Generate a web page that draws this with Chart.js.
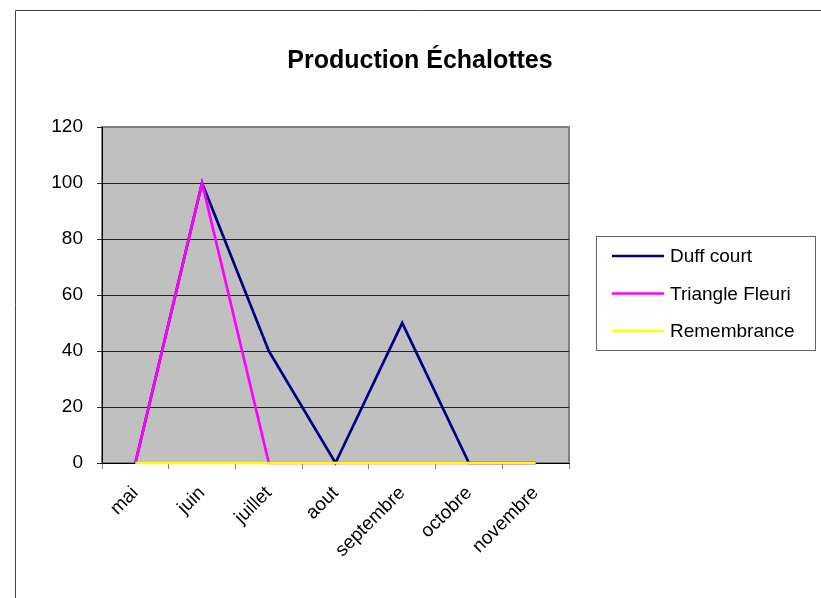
<!DOCTYPE html>
<html><head><meta charset="utf-8">
<script src="https://cdn.jsdelivr.net/npm/chart.js@4"></script>
<style>html,body{margin:0;padding:0;background:#fff}#wrap{width:821px;height:598px;position:relative}</style>
</head><body><div id="wrap"><canvas id="c" width="821" height="598"></canvas></div>
<script>
const categories = ['mai','juin','juillet','aout','septembre','octobre','novembre'];
const duffCourt = [0,100,40,0,50,0,0];
const triangleFleuri = [0,100,0,0,0,0,0];
const remembrance = [0,0,0,0,0,0,0];
const seriesNames = ['Duff court','Triangle Fleuri','Remembrance'];
const yTicks = [0,20,40,60,80,100,120];
const titleText = 'Production Échalottes';

const FONT = "'Liberation Sans', Arial, sans-serif";

const framePlugin = {
  id: 'frame',
  beforeDraw(chart) {
    const {ctx, chartArea: a} = chart;
    ctx.save();
    ctx.fillStyle = '#fff';
    ctx.fillRect(0,0,chart.width,chart.height);
    ctx.strokeStyle = '#444';
    ctx.lineWidth = 1;
    ctx.beginPath();
    ctx.moveTo(15.5, 598); ctx.lineTo(15.5, 10.5); ctx.lineTo(821, 10.5);
    ctx.stroke();
    ctx.fillStyle = '#C0C0C0';
    ctx.fillRect(a.left, a.top, a.right - a.left, a.bottom - a.top);
    ctx.strokeStyle = '#808080';
    ctx.lineWidth = 2;
    ctx.strokeRect(a.left, a.top, a.right - a.left, a.bottom - a.top);
    // title
    ctx.fillStyle = '#000';
    ctx.font = 'bold 25px ' + FONT;
    ctx.textAlign = 'center';
    ctx.textBaseline = 'alphabetic';
    ctx.fillText(titleText, 420, 68);
    ctx.restore();
  },
  afterDraw(chart) {
    const {ctx} = chart;
    ctx.save();
    const bx = 596.5, by = 236.5, bw = 219, bh = 114;
    ctx.strokeStyle = '#666';
    ctx.lineWidth = 1;
    ctx.strokeRect(bx, by, bw, bh);
    ctx.font = '19px ' + FONT;
    ctx.textBaseline = 'middle';
    ctx.textAlign = 'left';
    ctx.fillStyle = '#000';
    const ys = [256, 293.5, 331];
    chart.data.datasets.forEach((ds, i) => {
      ctx.strokeStyle = ds.borderColor;
      ctx.lineWidth = 2.5;
      ctx.beginPath();
      ctx.moveTo(612, ys[i]); ctx.lineTo(664, ys[i]);
      ctx.stroke();
      ctx.fillText(ds.label, 670, ys[i] + 1);
    });
    ctx.restore();
  }
};

new Chart(document.getElementById('c'), {
  type: 'line',
  data: {
    labels: categories,
    datasets: [
      {label: seriesNames[0], data: duffCourt, borderColor: '#000080', backgroundColor: '#000080', order: 3, clip: false},
      {label: seriesNames[1], data: triangleFleuri, borderColor: '#FF00FF', backgroundColor: '#FF00FF', order: 2, clip: false},
      {label: seriesNames[2], data: remembrance, borderColor: '#FFFF00', backgroundColor: '#FFFF00', order: 1, clip: false}
    ]
  },
  options: {
    responsive: false,
    animation: false,
    devicePixelRatio: 1,
    layout: {padding: {left: 0, right: 252, top: 127, bottom: 0}},
    elements: {line: {borderWidth: 2.7, tension: 0}, point: {radius: 0, hoverRadius: 0}},
    plugins: {
      legend: {display: false},
      tooltip: {enabled: false},
      title: {display: false}
    },
    scales: {
      x: {
        offset: true,
        grid: {offset: true, drawOnChartArea: false, tickLength: 6, tickColor: '#808080', lineWidth: 1},
        border: {display: true, color: '#000', width: 1},
        ticks: {color: '#000', font: {family: FONT, size: 19}, maxRotation: 45, minRotation: 45, padding: 13, autoSkip: false},
        afterFit(s) { s.height = 135; }
      },
      y: {
        min: 0, max: 120,
        afterBuildTicks(s) { s.ticks = yTicks.map(v => ({value: v})); },
        grid: {
          color: c => (c.tick && c.tick.value === 120) ? '#808080' : (c.tick && c.tick.value === 0 ? 'rgba(0,0,0,0)' : '#222'),
          tickColor: '#222', tickLength: 5, lineWidth: 1
        },
        border: {display: true, color: '#000', width: 1},
        ticks: {color: '#000', font: {family: FONT, size: 19}, padding: 14},
        afterFit(s) { s.width = 102; }
      }
    }
  },
  plugins: [framePlugin]
});
</script></body></html>
